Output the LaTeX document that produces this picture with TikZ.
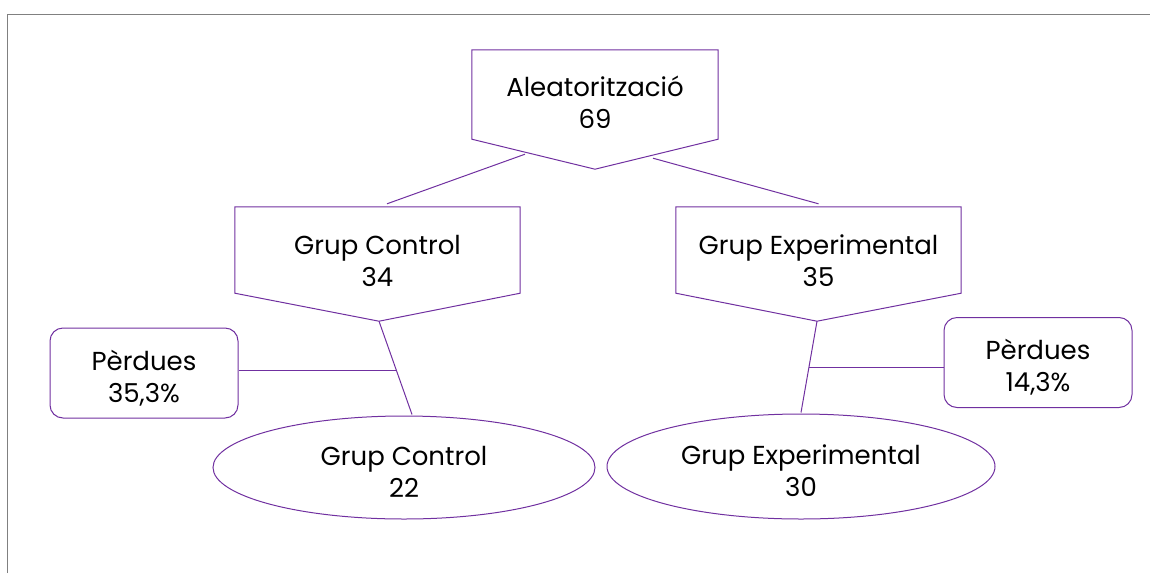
\documentclass[tikz,border=0pt]{standalone}
\usepackage{fontspec}
\setmainfont{Poppins}
\usepackage{tikz}
\usetikzlibrary{calc,shapes.geometric}
\definecolor{lila}{RGB}{112,48,160}
\definecolor{frameGray}{RGB}{128,128,128}

\begin{document}
\begin{tikzpicture}[x=1pt, y=-1pt]
  \tikzstyle{stage} = [rectangle, inner sep=0pt, align=center, text depth=0pt, font={\fontsize{26}{32}\selectfont}]
  \tikzstyle{loss} = [draw=lila, line width=1pt, rectangle, rounded corners=13pt, minimum width=188, minimum height=90, inner sep=0pt, align=center, text height=58pt, text depth=0pt, font={\fontsize{26}{32}\selectfont}]
  \tikzstyle{outcome} = [draw=lila, line width=1pt, ellipse, inner sep=0pt, align=center, text height=60pt, text depth=0pt, font={\fontsize{26}{32}\selectfont}]
  \tikzstyle{stageEdge} = [draw=lila, line width=1pt, line join=miter];
  \useasboundingbox (0,0) rectangle (1150,573);
  \draw[frameGray, line width=1.5pt] (7.5,573) -- (7.5,14.5) -- (1150,14.5);

  \node[stage, name=alea, minimum width=246, minimum height=89, text height=67.6pt] at (595,94.5) {Aleatorització\\69};
  \node[stage, name=gc, minimum width=285, minimum height=86, text height=73.4pt] at (377.5,250) {Grup Control\\34};
  \node[stage, name=ge, minimum width=285, minimum height=86, text height=73.4pt] at (818.5,250) {Grup Experimental\\35};
  \node[loss, name=lossC] at (144,373) {Pèrdues\\35,3\%};
  \node[loss, name=lossE] at (1038,362.5) {Pèrdues\\14,3\%};
  \node[outcome, name=endC, minimum width=382, minimum height=103] at (404,467.5) {Grup Control\\22};
  \node[outcome, name=endE, minimum width=388, minimum height=105] at (801,466.5) {Grup Experimental\\30};

  % pointed outlines of the three stages
  \coordinate (aleaTip) at ($(alea.south)+(0,30)$);
  \coordinate (gcTip) at ($(gc.south)+(1.5,28)$);
  \coordinate (geTip) at ($(ge.south)+(-1.5,28)$);
  \draw[stageEdge] (alea.north west) -- (alea.north east) -- (alea.south east) -- (aleaTip) -- (alea.south west) -- cycle;
  \draw[stageEdge] (gc.north west) -- (gc.north east) -- (gc.south east) -- (gcTip) -- (gc.south west) -- cycle;
  \draw[stageEdge] (ge.north west) -- (ge.north east) -- (ge.south east) -- (geTip) -- (ge.south west) -- cycle;

  % split of the randomised sample
  \draw ($(aleaTip)+(-70,-15)$) edge[stageEdge] ($(gc.north)+(9.5,-3)$);
  \draw ($(aleaTip)+(58,-11)$) edge[stageEdge] ($(ge.north)+(0,-3)$);

  % follow-up, with the losses branching off
  \coordinate (topC) at ($(endC.north)+(8,-1)$);
  \coordinate (jointC) at ($(gcTip)!0.53!(topC)$);
  \draw (gcTip) edge[stageEdge] (topC);
  \draw (lossC.east |- jointC) edge[stageEdge] (jointC);
  \coordinate (topE) at ($(endE.north)+(0,-1)$);
  \coordinate (jointE) at ($(geTip)!0.505!(topE)$);
  \draw (geTip) edge[stageEdge] (topE);
  \draw (jointE) edge[stageEdge] (lossE.west |- jointE);
\end{tikzpicture}
\end{document}
